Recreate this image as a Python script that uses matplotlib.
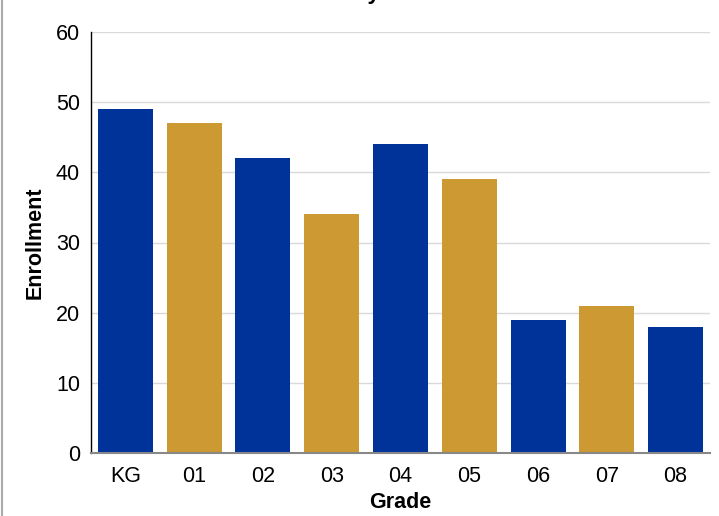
import matplotlib
matplotlib.use("Agg")
import matplotlib.pyplot as plt
from matplotlib.lines import Line2D

grades = ["KG", "01", "02", "03", "04", "05", "06", "07", "08"]
enrollment = [49, 47, 42, 34, 44, 39, 19, 21, 18]
colors = ["#003399", "#cc9933"]  # alternating blue / gold

plt.rcParams["font.family"] = ["Liberation Sans", "DejaVu Sans"]

fig = plt.figure(figsize=(7.19, 5.16), dpi=100)
ax = fig.add_axes([91 / 719, 1 - 453 / 516, (710 - 91) / 719, (453 - 32) / 516])

x = range(len(grades))
bar_colors = [colors[i % 2] for i in x]
ax.bar(x, enrollment, width=0.8, color=bar_colors, zorder=3)

ax.set_xlim(-0.5, len(grades) - 0.5)
ax.set_ylim(0, 60)
ax.set_yticks(range(0, 61, 10))
ax.set_xticks(list(x))
ax.set_xticklabels(grades)
ax.tick_params(length=0, labelsize=15.5, pad=9)
ax.tick_params(axis="y", pad=8)

ax.grid(axis="y", color="#d9d9d9", linewidth=1, zorder=0)
for s in ["top", "right"]:
    ax.spines[s].set_visible(False)
ax.spines["left"].set_color("black")
ax.spines["left"].set_linewidth(1)
ax.spines["bottom"].set_color("#888888")
ax.spines["bottom"].set_linewidth(1.5)
ax.spines["bottom"].set_zorder(4)

ax.set_xlabel("Grade", fontsize=15.5, fontweight="bold", labelpad=4)
ax.set_ylabel("Enrollment", fontsize=15.5, fontweight="bold", labelpad=7)

# title sits mostly above the visible area
fig.text(341 / 719, 1 + 1 / 516, "Enrollment by Grade", ha="center", va="baseline",
         fontsize=16, fontweight="bold")

# grey frame line at the left edge
fig.add_artist(Line2D([2 / 719, 2 / 719], [0, 1], color="#aaaaaa", linewidth=1.5,
                      transform=fig.transFigure))

fig.savefig("out.png", dpi=100)
